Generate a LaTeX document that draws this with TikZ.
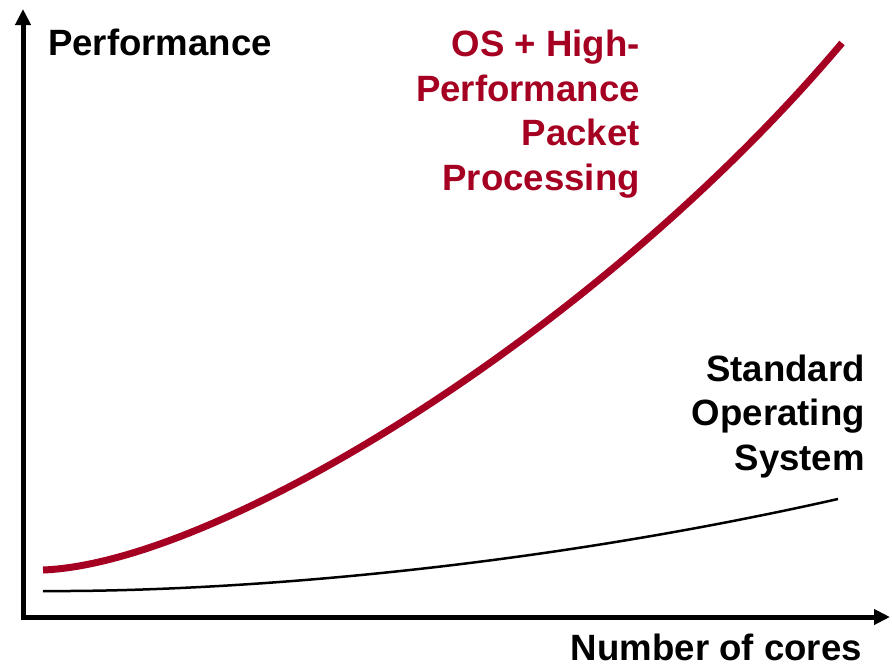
\documentclass[tikz,border=0pt]{standalone}
\usepackage{fontspec}
\setmainfont{Liberation Sans}
\usetikzlibrary{arrows.meta}
\definecolor{dred}{HTML}{A50021}
\tikzset{
  axis/.style={line width=5pt, {Triangle[length=16pt,width=15pt]}-{Triangle[length=16pt,width=15pt]}},
  lbl/.style={inner sep=0pt, font=\fontsize{36.6}{44.5}\selectfont\bfseries},
  fast/.style={line width=7pt, dred},
  slow/.style={line width=2.5pt, black},
}
\begin{document}
\begin{tikzpicture}[x=1pt,y=-1pt]
\useasboundingbox (0,0) rectangle (892,667);
\coordinate (ytip) at (23,9);
\coordinate (orig) at (23,617);
\coordinate (xtip) at (890,617);
\draw[axis] (ytip) -- (orig) -- (xtip);
\coordinate (r0) at (43,570);
\coordinate (r1) at (842,43);
\coordinate (b0) at (43,591);
\coordinate (b1) at (838,499);
\draw[fast] (r0) .. controls (220,563) and (600,330) .. (r1);
\draw[slow] (b0) .. controls (200,592) and (500,575) .. (b1);
\node[lbl, anchor=base west] (perf) at (48,55) {Performance};
\node[lbl, anchor=base east] (cores) at (862,660) {Number of cores};
\node[lbl, anchor=base east, align=right, text=dred] (hp) at (640,190) {OS + High-\\Performance\\Packet\\Processing};
\node[lbl, anchor=base east, align=right] (std) at (865,470) {Standard\\Operating\\System};
\end{tikzpicture}
\end{document}
